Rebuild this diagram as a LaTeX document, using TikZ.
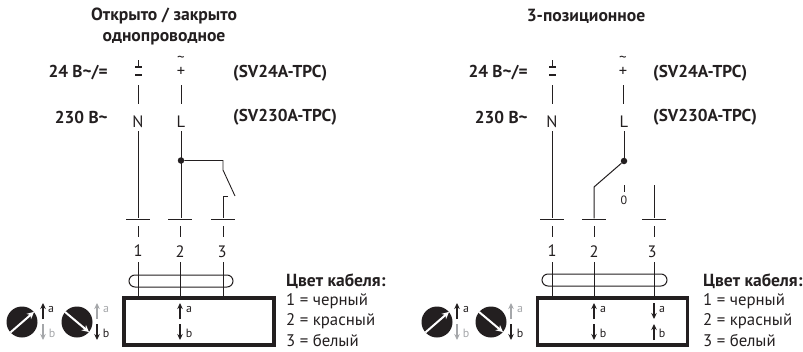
\documentclass[tikz,border=0pt]{standalone}
\usepackage{fontspec}
\setmainfont{PT Sans}
\usepackage{xcolor}
\definecolor{myblack}{RGB}{35,31,32}
\definecolor{mygray}{RGB}{165,167,170}
\usepackage{tikz}
\usetikzlibrary{positioning}
\usetikzlibrary{arrows.meta}
\tikzset{
	headtext/.style={font=\fontsize{17.6}{21}\selectfont\bfseries,text=myblack,align=center,inner sep=0},
	volttext/.style={font=\fontsize{17.2}{17}\selectfont\bfseries,text=myblack,inner sep=0},
	legendtext/.style={font=\fontsize{16.8}{17}\selectfont,text=myblack,inner sep=0,anchor=west},
	legendhead/.style={legendtext,font=\fontsize{17.5}{17}\selectfont\bfseries},
	wiretext/.style={font=\fontsize{16.5}{17}\selectfont,text=myblack,inner sep=0},
	tildetext/.style={font=\fontsize{15}{15}\selectfont,text=myblack,inner sep=0},
	smalltext/.style={font=\fontsize{12}{12}\selectfont,text=myblack,inner sep=0},
	graytext/.style={smalltext,text=mygray},
	wire/.style={draw=myblack,line width=1pt},
	termbar/.style={fill=myblack,minimum width=24pt,minimum height=1pt,inner sep=0},
	minusbar/.style={fill=myblack,minimum width=7pt,minimum height=1.6pt,inner sep=0},
	dot/.style={circle,fill=myblack,minimum size=6.5pt,inner sep=0},
	dial/.style={circle,fill=myblack,minimum size=31pt,inner sep=0},
	dialarrow/.style={draw=white,line width=2pt,-{Stealth[length=7pt,width=7pt]}},
	dirarrow/.style={draw=myblack,line width=1.2pt,-{Stealth[length=6pt,width=5.5pt]}},
	grayarrow/.style={dirarrow,draw=mygray},
	housing/.style={draw=myblack,line width=3.4pt,inner sep=0},
	clamp/.style={draw=myblack,line width=1pt,rounded corners=6pt,inner sep=0}
}
\begin{document}
\begin{tikzpicture}[x=1pt,y=-1pt]
	\useasboundingbox (0,0) rectangle (803,351);

	% left panel
	\node[headtext] (titleA) at (164,26) {Открыто / закрыто\\однопроводное};
	\node[volttext,anchor=east] (voltA) at (108,73) {24 В\textasciitilde/=};
	\node[volttext,anchor=east] (voltB) at (108,117) {230 В\textasciitilde};
	\node[volttext,anchor=west] (typeA) at (233,73) {(SV24A-TPC)};
	\node[volttext,anchor=west] (typeB) at (233,117) {(SV230A-TPC)};

	\node[minusbar] (plusA) at (138,67) {};
	\node[minusbar] (minusA) at (138,75) {};
	\coordinate (tickA) at (138,60);
	\node[tildetext] (tildeA) at (181,59.5) {\textasciitilde};
	\node[wiretext] (plusB) at (181,71.5) {+};
	\coordinate (upA) at (138,85);
	\coordinate (downA) at (138,104);
	\coordinate (upB) at (181,85);
	\coordinate (downB) at (181,104);
	\node[wiretext] (N) at (138,122) {N};
	\node[wiretext] (L) at (181,122) {L};
	\coordinate (startA) at (138,131);
	\coordinate (startB) at (181,131);
	\node[dot] (dotA) at (181,160.5) {};
	\coordinate (cornerA) at (223,160.5);
	\coordinate (swA) at (223,170);
	\coordinate (swB) at (235,196);
	\coordinate (contactA) at (228,196);
	\coordinate (contactB) at (223,196);

	\node[termbar] (barA) at (138,219) {};
	\node[termbar] (barB) at (180,219) {};
	\node[termbar] (barC) at (223,219) {};
	\node[wiretext] (numA) at (138,251) {1};
	\node[wiretext] (numB) at (180,252) {2};
	\node[wiretext] (numC) at (222,252) {3};
	\coordinate (dashA) at (138,237);
	\coordinate (dashB) at (180,237);
	\coordinate (dashC) at (223,237);
	\coordinate (lowA) at (138,262);
	\coordinate (lowB) at (180,262);
	\coordinate (lowC) at (223,262);

	\node[clamp,minimum width=104pt,minimum height=12pt] (clampA) at (181,281) {};
	\node[housing,minimum width=150pt,minimum height=47pt] (boxA) at (199,321.5) {};
	\coordinate (topA) at (138,297);
	\coordinate (topB) at (180,297);
	\coordinate (topC) at (223,297);

	\draw[wire] (tickA) -- (plusA);
	\draw[wire] (upA) -- (downA);
	\draw[wire] (upB) -- (downB);
	\draw[wire] (startA) -- (barA);
	\draw[wire] (startB) -- (barB.north -| startB);
	\draw[wire,line width=0.9pt] (dotA) -- (cornerA) -- (swA) -- (swB);
	\draw[wire,line width=0.9pt] (contactA) -- (contactB) -- (barC);
	\draw[wire] (barA) ++(0,7) -- (dashA);
	\draw[wire] (barB) ++(0,7) -- (dashB);
	\draw[wire] (barC) ++(0,7) -- (dashC);
	\draw[wire] (lowA) -- (topA);
	\draw[wire] (lowB) -- (topB);
	\draw[wire] (lowC) -- (topC);

	\node[dial] (dialA) at (22,322) {};
	\node[dial] (dialB) at (77,322) {};
	\draw[dialarrow] (dialA.222) -- (dialA.40);
	\draw[dialarrow] (dialB.140) -- (dialB.-40);

	\coordinate (aA) at (43,319);
	\coordinate (aB) at (43,303);
	\coordinate (bA) at (43,324);
	\coordinate (bB) at (43,340);
	\coordinate (cA) at (97,319);
	\coordinate (cB) at (97,303);
	\coordinate (eA) at (97,324);
	\coordinate (eB) at (97,340);
	\coordinate (fA) at (180,319);
	\coordinate (fB) at (180,303);
	\coordinate (gA) at (180,324);
	\coordinate (gB) at (180,340);
	\draw[dirarrow] (aA) -- (aB);
	\draw[grayarrow] (bA) -- (bB);
	\draw[grayarrow] (cA) -- (cB);
	\draw[dirarrow] (eA) -- (eB);
	\draw[dirarrow] (fA) -- (fB);
	\draw[dirarrow] (gA) -- (gB);
	\node[smalltext] (labA) at (51,309) {a};
	\node[graytext] (labB) at (52,333) {b};
	\node[graytext] (labC) at (106,309) {a};
	\node[smalltext] (labD) at (106,333) {b};
	\node[smalltext] (labE) at (189,309) {a};
	\node[smalltext] (labF) at (189,333) {b};

	\node[legendhead] (legA) at (286,281) {Цвет кабеля:};
	\node[legendtext] (legB) at (286,301) {1 = черный};
	\node[legendtext] (legC) at (286,321.5) {2 = красный};
	\node[legendtext] (legD) at (286,341) {3 = белый};

	% right panel
	\node[headtext] (titleB) at (586,16) {3-позиционное};
	\node[volttext,anchor=east] (voltC) at (528,73) {24 В\textasciitilde/=};
	\node[volttext,anchor=east] (voltD) at (528,117) {230 В\textasciitilde};
	\node[volttext,anchor=west] (typeC) at (653,73) {(SV24A-TPC)};
	\node[volttext,anchor=west] (typeD) at (653,117) {(SV230A-TPC)};

	\node[minusbar] (plusC) at (552,67) {};
	\node[minusbar] (minusC) at (552,75) {};
	\coordinate (tickC) at (552,60);
	\node[tildetext] (tildeC) at (623,59.5) {\textasciitilde};
	\node[wiretext] (plusD) at (623,71.5) {+};
	\coordinate (upC) at (552,85);
	\coordinate (downC) at (552,104);
	\coordinate (upD) at (623,85);
	\coordinate (downD) at (623,104);
	\node[wiretext] (N2) at (552,122) {N};
	\node[wiretext] (L2) at (624,122) {L};
	\coordinate (startC) at (552,131);
	\coordinate (startD) at (624,131);
	\node[dot] (dotB) at (624,161) {};
	\coordinate (swC) at (594,187);
	\coordinate (nullA) at (624,185);
	\coordinate (nullB) at (624,192);
	\node[smalltext] (zero) at (624,200) {0};
	\coordinate (startE) at (654,185);

	\node[termbar] (barD) at (552,219) {};
	\node[termbar] (barE) at (594,219) {};
	\node[termbar] (barF) at (654,219) {};
	\node[wiretext] (numD) at (552,251) {1};
	\node[wiretext] (numE) at (594,252) {2};
	\node[wiretext] (numF) at (652,252) {3};
	\coordinate (dashD) at (552,237);
	\coordinate (dashE) at (594,237);
	\coordinate (dashF) at (654,237);
	\coordinate (lowD) at (552,262);
	\coordinate (lowE) at (594,262);
	\coordinate (lowF) at (654,262);

	\node[clamp,minimum width=125pt,minimum height=12pt] (clampB) at (604.5,280) {};
	\node[housing,minimum width=150pt,minimum height=47pt] (boxB) at (612.5,321.5) {};
	\coordinate (topD) at (552,297);
	\coordinate (topE) at (594,297);
	\coordinate (topF) at (654,297);

	\draw[wire] (tickC) -- (plusC);
	\draw[wire] (upC) -- (downC);
	\draw[wire] (upD) -- (downD);
	\draw[wire] (startC) -- (barD);
	\draw[wire] (startD) -- (dotB);
	\draw[wire] (dotB) -- (swC) -- (barE);
	\draw[wire,line width=0.9pt] (nullA) -- (nullB);
	\draw[wire] (startE) -- (barF);
	\draw[wire] (barD) ++(0,7) -- (dashD);
	\draw[wire] (barE) ++(0,7) -- (dashE);
	\draw[wire] (barF) ++(0,7) -- (dashF);
	\draw[wire] (lowD) -- (topD);
	\draw[wire] (lowE) -- (topE);
	\draw[wire] (lowF) -- (topF);

	\node[dial] (dialC) at (437,322) {};
	\node[dial] (dialD) at (491,322) {};
	\draw[dialarrow] (dialC.222) -- (dialC.40);
	\draw[dialarrow] (dialD.140) -- (dialD.-40);

	\coordinate (hA) at (457,319);
	\coordinate (hB) at (457,303);
	\coordinate (iA) at (457,324);
	\coordinate (iB) at (457,340);
	\coordinate (jA) at (511,319);
	\coordinate (jB) at (511,303);
	\coordinate (kA) at (511,324);
	\coordinate (kB) at (511,340);
	\coordinate (mA) at (594,319);
	\coordinate (mB) at (594,303);
	\coordinate (oA) at (594,324);
	\coordinate (oB) at (594,340);
	\coordinate (pA) at (654,303);
	\coordinate (pB) at (654,319);
	\coordinate (qA) at (654,340);
	\coordinate (qB) at (654,324);
	\draw[dirarrow] (hA) -- (hB);
	\draw[grayarrow] (iA) -- (iB);
	\draw[grayarrow] (jA) -- (jB);
	\draw[dirarrow] (kA) -- (kB);
	\draw[dirarrow] (mA) -- (mB);
	\draw[dirarrow] (oA) -- (oB);
	\draw[dirarrow] (pA) -- (pB);
	\draw[dirarrow] (qA) -- (qB);
	\node[smalltext] (labG) at (466,309) {a};
	\node[graytext] (labH) at (466,333) {b};
	\node[graytext] (labI) at (520,309) {a};
	\node[smalltext] (labJ) at (520,333) {b};
	\node[smalltext] (labK) at (603,309) {a};
	\node[smalltext] (labL) at (603,333) {b};
	\node[smalltext] (labM) at (662,309) {a};
	\node[smalltext] (labO) at (662,333) {b};

	\node[legendhead] (legE) at (703,281) {Цвет кабеля:};
	\node[legendtext] (legF) at (703,301) {1 = черный};
	\node[legendtext] (legG) at (703,321.5) {2 = красный};
	\node[legendtext] (legH) at (703,341) {3 = белый};
\end{tikzpicture}
\end{document}
